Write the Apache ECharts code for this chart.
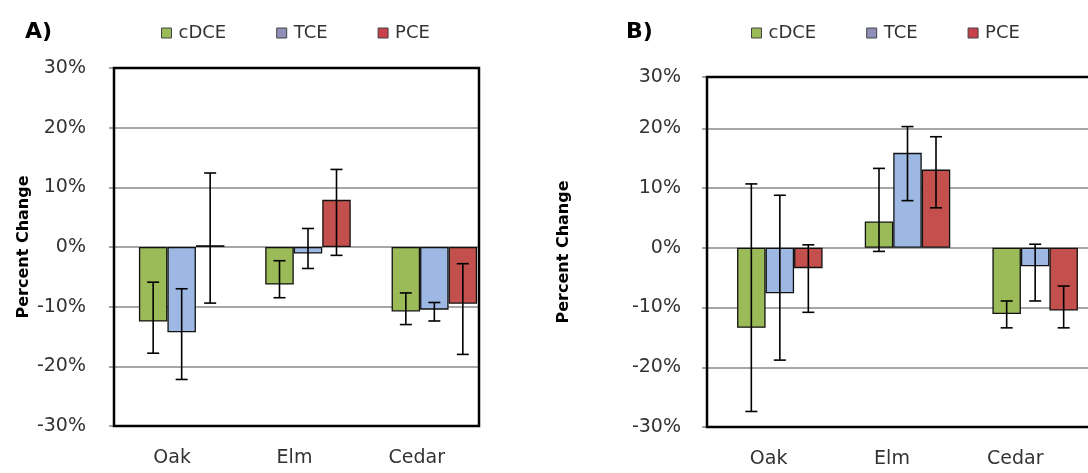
<!DOCTYPE html>
<html>
<head>
<meta charset="utf-8">
<script src="https://cdn.jsdelivr.net/npm/echarts@6/dist/echarts.min.js"></script>
<style>
  html, body { margin: 0; padding: 0; background: #ffffff; overflow: hidden; }
  /* the right panel's frame runs past the visible window, so the canvas is wider */
  #chart { width: 1200px; height: 473px; }
</style>
</head>
<body>
<div id="chart"></div>
<script>
// Categories and compounds
const categories = ['Oak', 'Elm', 'Cedar'];
const compounds = ['cDCE', 'TCE', 'PCE'];
const yTickLabels = ['-30%', '-20%', '-10%', '0%', '10%', '20%', '30%'];

// Panel A: mean percent change per compound
const cdceA = [-12.5, -6.3, -10.8];
const tceA = [-14.3, -1.1, -10.5];
const pceA = [0.3, 7.9, -9.5];
// Panel A: error bar ends
const cdceALow = [-17.8, -8.5, -13.0];
const cdceAHigh = [-5.9, -2.3, -7.7];
const tceALow = [-22.2, -3.6, -12.4];
const tceAHigh = [-7.0, 3.1, -9.3];
const pceALow = [-9.4, -1.4, -18.0];
const pceAHigh = [12.4, 13.0, -2.8];

// Panel B: mean percent change per compound
const cdceB = [-13.4, 4.4, -11.1];
const tceB = [-7.6, 15.9, -3.1];
const pceB = [-3.4, 13.1, -10.5];
// Panel B: error bar ends
const cdceBLow = [-27.4, -0.6, -13.4];
const cdceBHigh = [10.7, 13.3, -8.9];
const tceBLow = [-18.8, 7.9, -8.9];
const tceBHigh = [8.8, 20.3, 0.6];
const pceBLow = [-10.8, 6.7, -13.4];
const pceBHigh = [0.5, 18.6, -6.4];

const FONT = 'DejaVu Sans';
const fills = ['#9bbb59', '#9db9e3', '#c4504e'];
const swatches = ['#9bbb59', '#8e8eb8', '#c8404a'];
const BAR_W = 28.5;

function tickText(v) {
  const k = Math.round(v / 10) + 3;
  return yTickLabels[k];
}

function buildPanel(p, base) {
  const grids = [
    { left: p.frameLeft, top: p.top, width: p.frameWidth, height: p.height,
      show: true, borderColor: '#000', borderWidth: 2.5, backgroundColor: 'transparent', z: 5 },
    { left: p.labelLeft, top: p.top, width: p.labelWidth, height: p.height },
    { left: p.barLeft, top: p.top, width: p.barWidth, height: p.height }
  ];
  const xAxes = [
    { gridIndex: base, type: 'category', data: categories, show: false },
    { gridIndex: base + 1, type: 'category', data: categories,
      axisLine: { show: false }, axisTick: { show: false },
      axisLabel: { fontFamily: FONT, fontSize: 19, color: '#333', margin: p.xLabelMargin } },
    { gridIndex: base + 2, type: 'category', data: categories, show: false }
  ];
  const yAxes = [
    { gridIndex: base, type: 'value', min: -30, max: p.yMax, interval: 10,
      axisLine: { show: false },
      axisTick: { show: true, length: 5, lineStyle: { color: '#888', width: 1.5 } },
      axisLabel: { fontFamily: FONT, fontSize: 19, color: '#333', margin: p.yLabelMargin, formatter: tickText },
      splitLine: { show: true, lineStyle: { color: '#8a8a8a', width: 1.5 } },
      name: 'Percent Change', nameLocation: 'middle', nameGap: p.nameGap,
      nameTextStyle: { fontFamily: FONT, fontSize: 16, fontWeight: 'bold', color: '#000' } },
    { gridIndex: base + 1, type: 'value', min: -30, max: p.yMax, show: false },
    { gridIndex: base + 2, type: 'value', min: -30, max: p.yMax, show: false }
  ];
  const series = [];
  const errData = [];
  p.values.forEach((vals, s) => {
    series.push({
      type: 'bar', name: compounds[s], xAxisIndex: base + 2, yAxisIndex: base + 2,
      data: vals, barWidth: BAR_W, barGap: '0%',
      itemStyle: { color: fills[s], borderColor: '#111', borderWidth: 1.3 },
      z: 3
    });
    vals.forEach((v, c) => errData.push([c, s, p.lows[s][c], p.highs[s][c]]));
  });
  series.push({
    type: 'custom', xAxisIndex: base + 2, yAxisIndex: base + 2, z: 10,
    data: errData,
    renderItem: function (params, api) {
      const c = api.value(0), s = api.value(1);
      const lo = api.coord([c, api.value(2)]);
      const hi = api.coord([c, api.value(3)]);
      const x = lo[0] + (s - 1) * BAR_W;
      const cap = 6;
      const style = { stroke: '#000', lineWidth: 1.6 };
      return { type: 'group', children: [
        { type: 'line', shape: { x1: x, y1: lo[1], x2: x, y2: hi[1] }, style: style },
        { type: 'line', shape: { x1: x - cap, y1: lo[1], x2: x + cap, y2: lo[1] }, style: style },
        { type: 'line', shape: { x1: x - cap, y1: hi[1], x2: x + cap, y2: hi[1] }, style: style }
      ] };
    }
  });
  return { grids, xAxes, yAxes, series };
}

const panelA = buildPanel({
  frameLeft: 114, frameWidth: 365, top: 68, height: 358, yMax: 30,
  labelLeft: 111, labelWidth: 367, barLeft: 118.5, barWidth: 379,
  xLabelMargin: 23, yLabelMargin: 28, nameGap: 82,
  values: [cdceA, tceA, pceA],
  lows: [cdceALow, tceALow, pceALow],
  highs: [cdceAHigh, tceAHigh, pceAHigh]
}, 0);

const panelB = buildPanel({
  frameLeft: 707, frameWidth: 420, top: 77, height: 350, yMax: 28.6,
  labelLeft: 707, labelWidth: 370, barLeft: 716, barWidth: 383,
  xLabelMargin: 23, yLabelMargin: 26, nameGap: 135,
  values: [cdceB, tceB, pceB],
  lows: [cdceBLow, tceBLow, pceBLow],
  highs: [cdceBHigh, tceBHigh, pceBHigh]
}, 3);

function legendAt(left) {
  return {
    left: left, top: 19, orient: 'horizontal', icon: 'rect',
    itemWidth: 10, itemHeight: 10, itemGap: 50, selectedMode: false,
    textStyle: { fontFamily: FONT, fontSize: 18, color: '#333', padding: [0, 0, 0, 2] },
    data: compounds.map((n, i) => ({ name: n, itemStyle: { color: swatches[i], borderColor: '#444', borderWidth: 1 } }))
  };
}

const chart = echarts.init(document.getElementById('chart'), null, { renderer: 'canvas' });
chart.setOption({
  animation: false,
  backgroundColor: '#ffffff',
  grid: panelA.grids.concat(panelB.grids),
  xAxis: panelA.xAxes.concat(panelB.xAxes),
  yAxis: panelA.yAxes.concat(panelB.yAxes),
  series: panelA.series.concat(panelB.series),
  legend: [legendAt(156), legendAt(746)],
  graphic: [
    { type: 'text', left: 25, top: 21, style: { text: 'A)', font: 'bold 22px "DejaVu Sans"', fill: '#000' } },
    { type: 'text', left: 626, top: 21, style: { text: 'B)', font: 'bold 22px "DejaVu Sans"', fill: '#000' } }
  ]
});
</script>
</body>
</html>
